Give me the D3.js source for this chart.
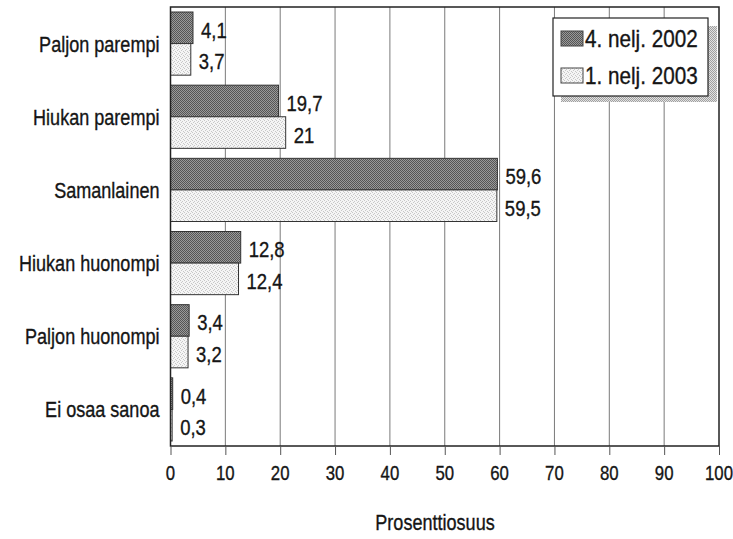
<!DOCTYPE html>
<html><head><meta charset="utf-8">
<script src="https://cdn.jsdelivr.net/npm/d3@7"></script>
<style>
body{margin:0;background:#fff}
text{font-family:"Liberation Sans",Arial,sans-serif;fill:#151515;stroke:#151515;stroke-width:0.35px}
</style></head>
<body><svg id="c" width="733" height="539"></svg>
<script>
const categories = ["Paljon parempi","Hiukan parempi","Samanlainen","Hiukan huonompi","Paljon huonompi","Ei osaa sanoa"];
const seriesNames = ["4. nelj. 2002","1. nelj. 2003"];
const values2002 = [4.1,19.7,59.6,12.8,3.4,0.4];
const values2003 = [3.7,21,59.5,12.4,3.2,0.3];
const valueLabels2002 = ["4,1","19,7","59,6","12,8","3,4","0,4"];
const valueLabels2003 = ["3,7","21","59,5","12,4","3,2","0,3"];
const xTicks = [0,10,20,30,40,50,60,70,80,90,100];
const axisTitle = "Prosenttiosuus";

const SX = 0.84; // condensed look
const svg = d3.select("#c");
const L=170.5, R=719, T=7, B=446;
const x = d3.scaleLinear().domain([0,100]).range([L,R]);
const y = d3.scaleBand().domain(categories).range([T,B]);
const sub = d3.scaleBand().domain(seriesNames).range([5, y.bandwidth()-5]);
const tr = (px,py,s=SX)=>`translate(${px},${py}) scale(${s},1)`;

const defs = svg.append("defs");
function pat(id, n, base, dot, dots){
  const p = defs.append("pattern").attr("id",id).attr("width",n).attr("height",n).attr("patternUnits","userSpaceOnUse");
  p.append("rect").attr("width",n).attr("height",n).attr("fill",base);
  dots.forEach(d=>p.append("rect").attr("x",d[0]).attr("y",d[1]).attr("width",1).attr("height",1).attr("fill",dot));
}
pat("pDark",2,"#9a9a9a","#555",[[0,0],[1,1]]);
pat("pLight",4,"#f5f5f5","#c8c8c8",[[0,0],[2,1],[1,2],[3,3]]);
pat("pShadow",2,"#e2e2e2","#a0a0a0",[[0,0],[1,1]]);
const fills = {"4. nelj. 2002":"url(#pDark)","1. nelj. 2003":"url(#pLight)"};

// gridlines
svg.append("g").selectAll("line").data(xTicks.slice(1,-1)).join("line")
  .attr("x1",d=>x(d)).attr("x2",d=>x(d)).attr("y1",T).attr("y2",B)
  .attr("stroke","#7a7a7a").attr("stroke-width",1);

const rows = categories.map((c,i)=>[
  {cat:c, s:seriesNames[0], v:values2002[i], lab:valueLabels2002[i]},
  {cat:c, s:seriesNames[1], v:values2003[i], lab:valueLabels2003[i]}
]).flat();

svg.append("g").selectAll("rect").data(rows).join("rect")
  .attr("x",x(0)).attr("y",d=>y(d.cat)+sub(d.s))
  .attr("width",d=>x(d.v)-x(0)).attr("height",sub.bandwidth())
  .attr("fill",d=>fills[d.s]).attr("stroke","#333").attr("stroke-width",1);

svg.append("g").selectAll("text").data(rows).join("text")
  .attr("transform",d=>tr(x(d.v)+8, y(d.cat)+sub(d.s)+sub.bandwidth()/2+10))
  .attr("font-size",22).text(d=>d.lab);

// frame
svg.append("rect").attr("x",L).attr("y",T).attr("width",R-L).attr("height",B-T)
  .attr("fill","none").attr("stroke","#222").attr("stroke-width",1.5);

// category labels
svg.append("g").selectAll("text").data(categories).join("text")
  .attr("transform",d=>tr(L-11, y(d)+y.bandwidth()/2+8))
  .attr("text-anchor","end").attr("font-size",21.5).text(d=>d);

// x axis
const ax = svg.append("g").attr("transform",`translate(0,${B})`)
  .call(d3.axisBottom(x).tickValues(xTicks).tickSize(9).tickFormat(""));
ax.select(".domain").remove();
ax.selectAll("line").attr("stroke","#555");
svg.append("g").selectAll("text").data(xTicks).join("text")
  .attr("transform",d=>tr(x(d),480)).attr("text-anchor","middle")
  .attr("font-size",20).text(d=>d3.format("d")(d));

svg.append("text").attr("transform",tr(435,530)).attr("text-anchor","middle")
  .attr("font-size",21.5).text(axisTitle);

// legend
const lg = svg.append("g");
lg.append("rect").attr("x",561).attr("y",26).attr("width",156).attr("height",76).attr("fill","url(#pShadow)");
lg.append("rect").attr("x",553).attr("y",18).attr("width",155).attr("height",78).attr("fill","#fff").attr("stroke","#222").attr("stroke-width",1.2);
seriesNames.forEach((s,i)=>{
  const yy = 31 + i*37;
  lg.append("rect").attr("x",561).attr("y",yy).attr("width",22).attr("height",15)
    .attr("fill",fills[s]).attr("stroke","#444").attr("stroke-width",1);
  lg.append("text").attr("transform",tr(585,yy+16,0.88)).attr("font-size",23.5).text(s);
});
</script></body></html>
